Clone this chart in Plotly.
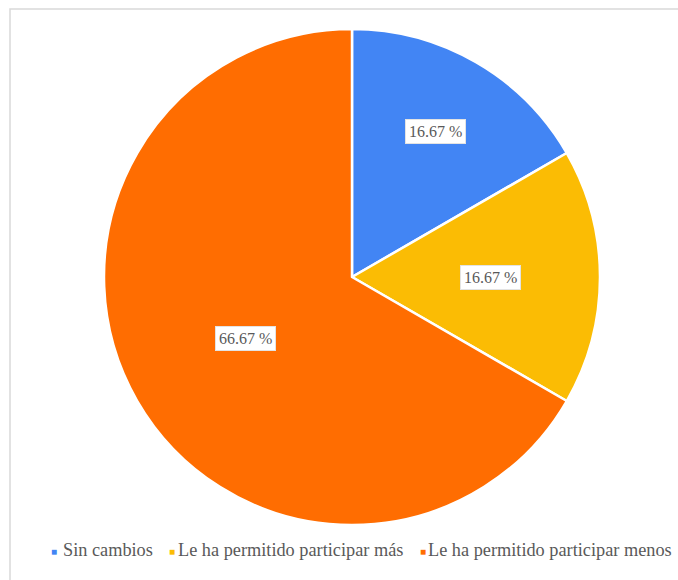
import math
import plotly.graph_objects as go

categories = ["Sin cambios", "Le ha permitido participar más", "Le ha permitido participar menos"]
values = [1, 1, 4]
colors = ["#4285F4", "#FBBC04", "#FF6D01"]
label_radius = [0.68, 0.56, 0.50]

W, H = 678, 580
ML, MR, MT, MB = 26, 0, 29, 55
PW, PH = W - ML - MR, H - MT - MB
R = min(PW, PH) / 2.0 - 1

SERIF = "Liberation Serif"
TEXT_COLOR = "#595959"


def px_x(px):
    """Pixel column -> paper x."""
    return (px - ML) / PW


def px_y(py):
    """Pixel row (from top) -> paper y."""
    return (H - MB - py) / PH


fig = go.Figure(
    go.Pie(
        labels=categories,
        values=values,
        sort=False,
        direction="clockwise",
        rotation=0,
        marker=dict(colors=colors, line=dict(color="white", width=2.5)),
        textinfo="none",
        hoverinfo="label+percent",
        showlegend=False,
        domain=dict(x=[0, 1], y=[0, 1]),
    )
)

# percentage labels in white boxes, placed along each slice's mid angle
total = sum(values)
cum = 0.0
cx, cy = 0.5, 0.5
for v, rr in zip(values, label_radius):
    mid = (cum + v / 2.0) / total * 2 * math.pi
    cum += v
    dx = rr * R * math.sin(mid)
    dy = rr * R * math.cos(mid)
    pct = v / total * 100
    fig.add_annotation(
        x=cx + dx / PW, y=cy + dy / PH, xref="paper", yref="paper",
        xanchor="center", yanchor="middle",
        text=f"{pct:.2f} %", showarrow=False,
        font=dict(family=SERIF, size=16, color=TEXT_COLOR),
        bgcolor="white", bordercolor="#e3e3e3", borderwidth=1, borderpad=3,
    )

# legend row along the bottom: small coloured square followed by the category name
marker_left_px = [49, 167, 418]
text_left_px = [61, 176, 426]
for name, col, mx, tx in zip(categories, colors, marker_left_px, text_left_px):
    fig.add_annotation(
        x=px_x(mx), y=px_y(551.5), xref="paper", yref="paper",
        xanchor="left", yanchor="middle", showarrow=False,
        text="■", font=dict(size=10, color=col),
    )
    fig.add_annotation(
        x=px_x(tx), y=px_y(550), xref="paper", yref="paper",
        xanchor="left", yanchor="middle", showarrow=False,
        text=name, font=dict(family=SERIF, size=18.3, color=TEXT_COLOR),
    )

# light frame around the chart area
fig.add_shape(
    type="rect", xref="paper", yref="paper",
    x0=px_x(10), x1=px_x(W + 20),
    y0=px_y(H + 20), y1=px_y(9),
    line=dict(color="#d9d9d9", width=1.5), layer="below",
)

fig.update_layout(
    width=W, height=H,
    margin=dict(l=ML, r=MR, t=MT, b=MB),
    paper_bgcolor="white",
    font=dict(family=SERIF, color=TEXT_COLOR),
    showlegend=False,
)

fig.write_html("out.html")
